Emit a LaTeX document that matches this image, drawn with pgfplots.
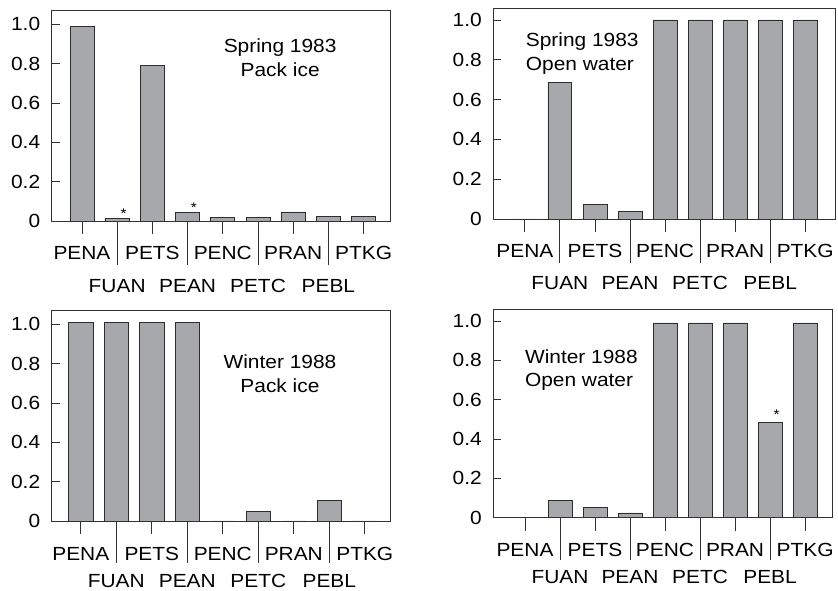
\documentclass[border=0pt]{standalone}
\usepackage{fontspec}
\setmainfont{Liberation Sans}[FakeStretch=1.1]
\newfontfamily\tickfont{Liberation Sans}[FakeStretch=1.1]
\usepackage{pgfplots}
\pgfplotsset{compat=1.18}
\definecolor{barfill}{RGB}{167,168,171}
\definecolor{bardraw}{RGB}{45,45,45}
\definecolor{axcol}{RGB}{50,50,50}
\pgfplotsset{
  base/.style={scale only axis, anchor=south west, enlargelimits=false, ymin=0,
    axis line style={draw=axcol, line width=0.8pt},
    every tick/.style={draw=axcol, line width=0.8pt},
    /pgf/number format/assume math mode=true,
    tick label style={font=\tickfont\fontsize{19}{22}\selectfont, text=black}},
  main/.style={base, xtick=\empty, ytick={0,0.2,0.4,0.6,0.8,1},
    yticklabels={0,0.2,0.4,0.6,0.8,1.0}, ytick pos=left, tick align=inside,
    major tick length=8pt, yticklabel style={xshift=-8pt}},
  xax/.style={base, axis y line=none, axis x line*=bottom,
    xtick={0,2,4,6,8}, xticklabels={PENA,PETS,PENC,PRAN,PTKG},
    extra x ticks={1,3,5,7}, extra x tick labels={FUAN,PEAN,PETC,PEBL},
    tick align=outside, major tick length=13pt,
    xticklabel style={anchor=base, yshift=-26pt},
    extra x tick style={major tick length=43pt, xticklabel style={yshift=3pt}}},
  bars/.style={ybar, bar width=0.68, bar shift=0pt, fill=barfill, draw=bardraw, line width=0.7pt},
}
\tikzset{
  lbl/.style={font=\fontsize{19}{23.5}\selectfont},
  ast/.style={font=\fontsize{14}{14}\selectfont, anchor=base}
}
\begin{document}
\begin{tikzpicture}
\useasboundingbox (0pt,0pt) rectangle (838pt,591pt);
% ---------- Top left
\begin{axis}[main, at={(51.7pt,370pt)}, width=339pt, height=211pt, xmin=-0.86, xmax=8.77, ymax=1.073]
\addplot[bars] coordinates {(0,0.99) (1,0.014) (2,0.79) (3,0.042) (4,0.019) (5,0.019) (6,0.046) (7,0.022) (8,0.022)};
\node[lbl, align=center] at (axis cs:5.63,0.83) {Spring 1983\\Pack ice};
\node[ast] at (axis cs:1.18,0.012) {*};
\node[ast] at (axis cs:3.18,0.041) {*};
\end{axis}
\begin{axis}[xax, at={(51.7pt,370pt)}, width=339pt, height=211pt, xmin=-0.86, xmax=8.77, ymax=1.073,
  extra x tick style={major tick length=44pt, xticklabel style={yshift=-4pt}}]
\end{axis}
% ---------- Top right
\begin{axis}[main, at={(493.3pt,372pt)}, width=341.7pt, height=211pt, xmin=-0.9, xmax=8.85, ymax=1.06]
\addplot[bars] coordinates {(0,0) (1,0.685) (2,0.072) (3,0.04) (4,1.0) (5,1.0) (6,1.0) (7,1.0) (8,1.0)};
\node[lbl, align=left, anchor=west] at (axis cs:-0.07,0.83) {Spring 1983\\Open water};
\end{axis}
\begin{axis}[xax, at={(493.3pt,372pt)}, width=341.7pt, height=211pt, xmin=-0.9, xmax=8.85, ymax=1.06,
  extra x tick style={major tick length=44pt, xticklabel style={yshift=-4pt}}]
\end{axis}
% ---------- Bottom left
\begin{axis}[main, at={(51.7pt,70pt)}, width=339pt, height=211pt, xmin=-0.82, xmax=8.73, ymax=1.073]
\addplot[bars] coordinates {(0,1.01) (1,1.01) (2,1.01) (3,1.01) (4,0) (5,0.047) (6,0) (7,0.103) (8,0)};
\node[lbl, align=center] at (axis cs:5.61,0.75) {Winter 1988\\Pack ice};
\end{axis}
\begin{axis}[xax, at={(51.7pt,70pt)}, width=339pt, height=211pt, xmin=-0.82, xmax=8.73, ymax=1.073,
  extra x tick style={major tick length=42pt, xticklabel style={yshift=-1pt}}]
\end{axis}
% ---------- Bottom right
\begin{axis}[main, at={(493.3pt,73.3pt)}, width=338.7pt, height=208.7pt, xmin=-0.905, xmax=8.77, ymax=1.061]
\addplot[bars] coordinates {(0,0) (1,0.086) (2,0.051) (3,0.024) (4,0.99) (5,0.99) (6,0.99) (7,0.486) (8,0.99)};
\node[lbl, align=left, anchor=west] at (axis cs:-0.1,0.75) {Winter 1988\\Open water};
\node[ast] at (axis cs:7.19,0.5) {*};
\end{axis}
\begin{axis}[xax, at={(493.3pt,73.3pt)}, width=338.7pt, height=208.7pt, xmin=-0.905, xmax=8.77, ymax=1.061,
  extra x tick style={major tick length=42pt, xticklabel style={yshift=-1pt}}]
\end{axis}
\end{tikzpicture}
\end{document}
